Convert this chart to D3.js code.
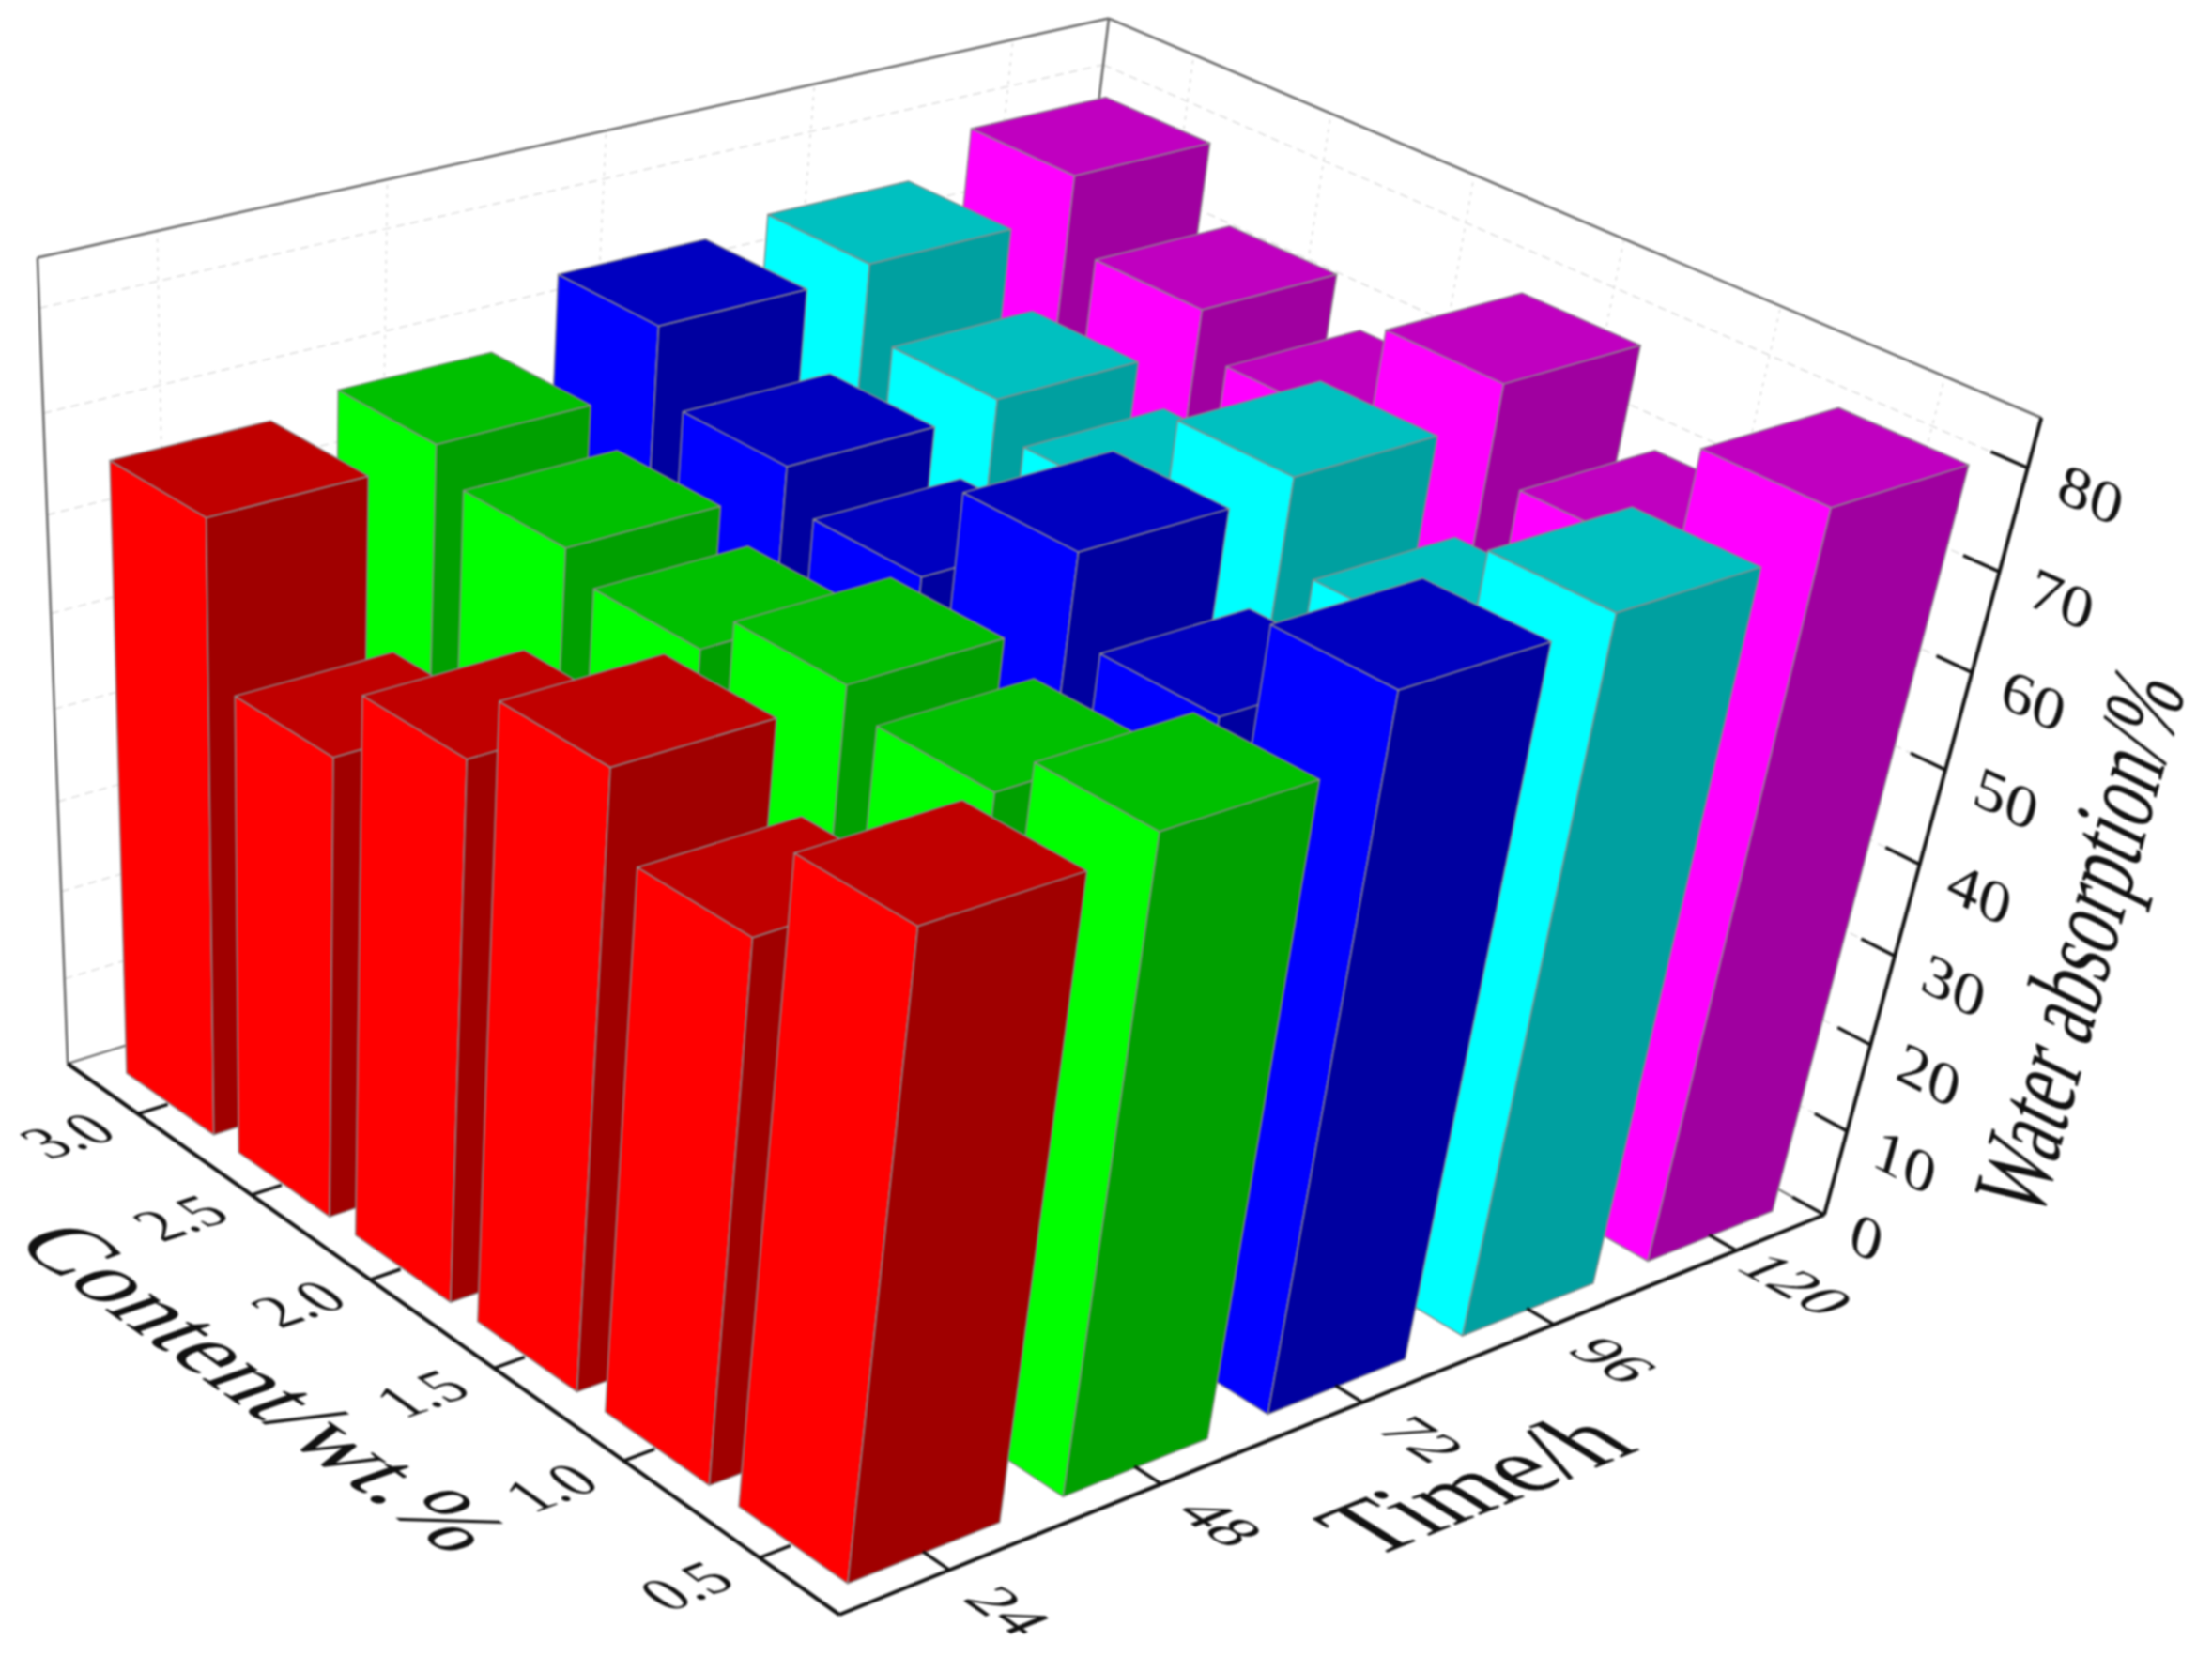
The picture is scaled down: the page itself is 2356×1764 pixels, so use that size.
<!DOCTYPE html>
<html>
<head>
<meta charset="utf-8">
<script src="https://cdn.jsdelivr.net/npm/d3@7"></script>
<style>
html, body { margin: 0; padding: 0; background: #fff; }
svg { display: block; filter: blur(0.9px); }
text { font-family: "Liberation Serif", serif; fill: #111; }
</style>
</head>
<body>
<div id="chart"></div>
<script>
var times = [24, 48, 72, 96, 120];
var contents = ["0.5", "1.0", "1.5", "2.0", "2.5", "3.0"];
var zTicks = [0, 10, 20, 30, 40, 50, 60, 70, 80];

// water absorption, one array per time, same order as contents
var absorption24 = [67.5, 57.7, 65.4, 58.1, 50.2, 66.3];
var absorption48 = [69.0, 64.4, 66.6, 62.3, 64.7, 67.7];
var absorption72 = [75.3, 64.9, 73.0, 63.2, 66.9, 73.9];
var absorption96 = [76.1, 65.9, 74.3, 64.7, 68.0, 74.9];
var absorption120 = [79.9, 68.8, 77.7, 67.4, 71.7, 78.8];
var absorption = [absorption24, absorption48, absorption72, absorption96, absorption120];

var bright = ["#ff0000", "#00ff00", "#0000ff", "#00ffff", "#ff00ff"];
var dark = ["#a00000", "#00a000", "#0000a0", "#00a0a0", "#a000a0"];
var topc = ["#c00000", "#00c000", "#0000c0", "#00c0c0", "#c000c0"];

var width = 2356, height = 1764;

// camera: the floor corners and where the verticals meet
var F = [894, 1720], R = [1943, 1294], B = [1085, 817], L = [72, 1133];
var Rtop = [2178, 445];
var V = [303, 7315];

function floorMatrix(p0, p1, p2, p3){
	var dx1 = p1[0]-p2[0], dx2 = p3[0]-p2[0], sx = p0[0]-p1[0]+p2[0]-p3[0];
	var dy1 = p1[1]-p2[1], dy2 = p3[1]-p2[1], sy = p0[1]-p1[1]+p2[1]-p3[1];
	var den = dx1*dy2-dx2*dy1;
	var g = (sx*dy2-dx2*sy)/den;
	var h = (dx1*sy-sx*dy1)/den;
	return {
		a: p1[0]-p0[0]+g*p1[0], b: p3[0]-p0[0]+h*p3[0], c: p0[0],
		d: p1[1]-p0[1]+g*p1[1], e: p3[1]-p0[1]+h*p3[1], f: p0[1],
		g: g, h: h
	};
}
var M = floorMatrix(F, R, B, L);
// height factor so that u=1,v=0,w=1 lands on Rtop
var k = ((M.d+M.f) - Rtop[1]*(M.g+1))/(Rtop[1]-V[1]);

function proj(u, v, w){
	var X = M.a*u+M.b*v+M.c + k*w*V[0];
	var Y = M.d*u+M.e*v+M.f + k*w*V[1];
	var W = M.g*u+M.h*v+1 + k*w;
	return [X/W, Y/W];
}

var uScale = d3.scalePoint().domain(times).range([0, 1]).padding(0.5);
var vScale = d3.scalePoint().domain(contents).range([-0.006, 0.994]).padding(0.6036);
var wScale = d3.scaleLinear().domain([0, 84.7]).range([0, 1]);
var barU = 0.14, barV = 0.126;

var svg = d3.select("#chart").append("svg").attr("width", width).attr("height", height);
var line = d3.line();

function seg(p, q, color, sw, dash){
	svg.append("path")
	.attr("d", line([p, q]))
	.attr("fill", "none")
	.attr("stroke", color)
	.attr("stroke-width", sw)
	.attr("stroke-dasharray", dash || null);
}

// walls: dashed grid
zTicks.forEach(function(t){
	var w = wScale(t);
	seg(proj(0,1,w), proj(1,1,w), "#dcdcdc", 1.5, "9,6");
	seg(proj(1,1,w), proj(1,0,w), "#dcdcdc", 1.5, "9,6");
});
times.forEach(function(t){
	seg(proj(uScale(t),1,0), proj(uScale(t),1,1), "#dcdcdc", 1.5, "4,6");
});
contents.forEach(function(c){
	seg(proj(1,vScale(c),0), proj(1,vScale(c),1), "#dcdcdc", 1.5, "4,6");
});

// thin box lines
seg(proj(0,1,1), proj(1,1,1), "#666", 2.5);
seg(proj(1,1,1), proj(1,0,1), "#666", 2.5);
seg(proj(0,1,0), proj(0,1,1), "#666", 2.5);
seg(proj(1,1,0), proj(1,1,1), "#666", 2.5);
seg(proj(0,1,0), proj(1,1,0), "#666", 2);
seg(proj(1,1,0), proj(1,0,0), "#666", 2);

// bars, far ones first
d3.range(times.length-1, -1, -1).forEach(function(i){
	d3.range(contents.length-1, -1, -1).forEach(function(j){
		var u0 = uScale(times[i])-barU/2, u1 = u0+barU;
		var v0 = vScale(contents[j])-barV/2, v1 = v0+barV;
		var w = wScale(absorption[i][j]);
		var faces = [
			[[proj(u0,v1,0), proj(u0,v0,0), proj(u0,v0,w), proj(u0,v1,w)], bright[i]],
			[[proj(u0,v0,0), proj(u1,v0,0), proj(u1,v0,w), proj(u0,v0,w)], dark[i]],
			[[proj(u0,v0,w), proj(u1,v0,w), proj(u1,v1,w), proj(u0,v1,w)], topc[i]]
		];
		faces.forEach(function(f){
			svg.append("path")
			.attr("d", line(f[0])+"Z")
			.attr("fill", f[1])
			.attr("stroke", "#8c8c8c")
			.attr("stroke-width", 1.5)
			.attr("stroke-linejoin", "round");
		});
	});
});

// black axes
seg(proj(0,1,0), proj(0,0,0), "#111", 4);
seg(proj(0,0,0), proj(1,0,0), "#111", 4);
seg(proj(1,0,0), proj(1,0,1), "#111", 4);

function unit(p, q){
	var dx = q[0]-p[0], dy = q[1]-p[1], n = Math.sqrt(dx*dx+dy*dy);
	return [dx/n, dy/n];
}

// text lying in a plane: baseline along ex, glyph foot along ey
function label(str, p, ex, ey, emX, emY, anchor){
	var r = emX/emY;
	svg.append("text")
	.attr("transform", "matrix("+[ex[0]*r, ex[1]*r, ey[0], ey[1], p[0], p[1]].join(",")+")")
	.attr("font-size", emY)
	.attr("text-anchor", anchor)
	.text(str);
}

contents.forEach(function(c){
	var v = vScale(c);
	seg(proj(0,v,0), proj(0.028,v,0), "#111", 3.5);
	var p = proj(-0.065,v,0);
	var ex = unit(proj(-0.1,v,0), proj(0,v,0));
	var ey = unit(proj(-0.065,v+0.05,0), proj(-0.065,v-0.05,0));
	label(c, [p[0]+ey[0]*22, p[1]+ey[1]*22], ex, ey, 64, 68, "middle");
});

times.forEach(function(t){
	var u = uScale(t);
	seg(proj(u,0,0), proj(u,0.03,0), "#111", 3.5);
	var p = proj(u,-0.065,0);
	var ex = unit(proj(u,0,0), proj(u,-0.1,0));
	var ey = unit(proj(u+0.05,-0.065,0), proj(u-0.05,-0.065,0));
	label(t, [p[0]+ey[0]*22, p[1]+ey[1]*22], ex, ey, 72, 66, "middle");
});

zTicks.forEach(function(t){
	var w = wScale(t);
	seg(proj(1,0,w), proj(1,0.035,w), "#111", 3.5);
	var p = proj(1,-0.03,w);
	var ex = unit(proj(1,0,w), proj(1,-0.1,w));
	var ey = unit(proj(1,-0.03,w+0.05), proj(1,-0.03,w-0.05));
	label(t, [p[0]+ey[0]*20, p[1]+ey[1]*20], ex, ey, 72, 62, "start");
});

// axis titles
label("Content/wt.%", [245,1490], unit(proj(0,1,0), proj(0,0,0)), unit(proj(1,0.5,0), proj(0,0.5,0)), 104, 112, "middle");
label("Time/h", [1605,1602], unit(proj(0,0,0), proj(1,0,0)), unit(proj(0.5,1,0), proj(0.5,0,0)), 108, 120, "middle");
label("Water absorption/%", [2250,1020], unit(proj(1,0,0), proj(1,0,1)), unit(proj(1,1,0.5), proj(1,0,0.5)), 74, 118, "middle");
</script>
</body>
</html>
